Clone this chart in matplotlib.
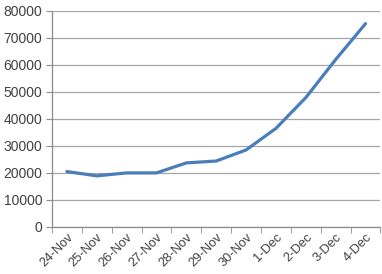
import matplotlib.pyplot as plt
import numpy as np

dates = ['24-Nov', '25-Nov', '26-Nov', '27-Nov', '28-Nov', '29-Nov',
         '30-Nov', '1-Dec', '2-Dec', '3-Dec', '4-Dec']
values = [20500, 18900, 20000, 20000, 23700, 24400,
          28500, 36500, 47900, 62000, 75300]
yticks = [0, 10000, 20000, 30000, 40000, 50000, 60000, 70000, 80000]

plt.rcParams['font.family'] = ['Liberation Sans', 'DejaVu Sans']

fig = plt.figure(figsize=(3.82, 2.74), dpi=100)
ax = fig.add_axes([0.136, 0.172, 0.86, 0.788])

x = np.arange(len(dates))
ax.plot(x, values, color='#4a7ebb', lw=2.3, solid_capstyle='round')

ax.set_xlim(-0.5, len(dates) - 0.5)
ax.set_ylim(0, 80000)
ax.set_yticks(yticks)
ax.set_yticklabels([str(v) for v in yticks])
ax.set_xticks(x)
ax.set_xticklabels(dates, rotation=45, ha='right', va='top', rotation_mode='anchor')
ax.set_xticks(np.arange(len(dates) + 1) - 0.5, minor=True)

ax.grid(axis='y', color='#a6a6a6', lw=0.9)
ax.set_axisbelow(True)
for s in ['top', 'right']:
    ax.spines[s].set_visible(False)
for s in ['left', 'bottom']:
    ax.spines[s].set_color('#8c8c8c')
    ax.spines[s].set_linewidth(0.9)

ax.tick_params(axis='x', which='major', length=0, pad=3, labelsize=9.3, colors='#404040')
ax.tick_params(axis='x', which='minor', length=4, color='#8c8c8c')
ax.tick_params(axis='y', length=4, color='#8c8c8c', labelsize=10, labelcolor='#404040', pad=3)

fig.savefig('out.png', dpi=100)
